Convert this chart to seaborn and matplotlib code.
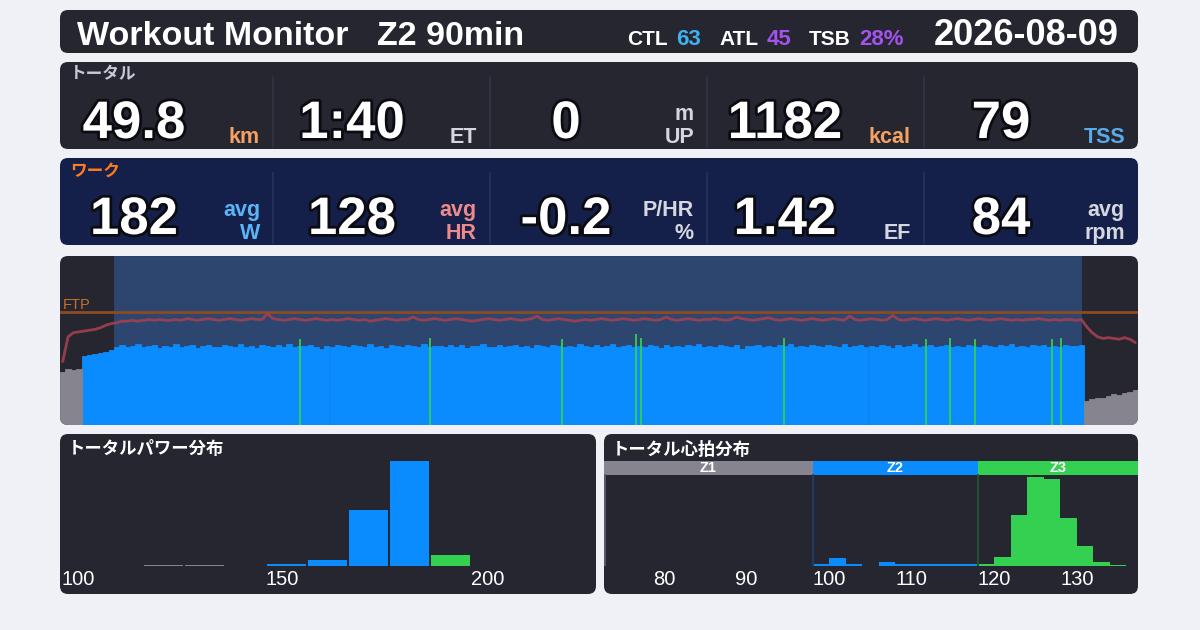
import numpy as np
import pandas as pd
import matplotlib.pyplot as plt
import matplotlib.patheffects as pe
from matplotlib.patches import FancyBboxPatch
from matplotlib.lines import Line2D
import seaborn as sns

# ---- header ----
title_text = "Workout Monitor   Z2 90min"
date_text = "2026-08-09"
load_labels = ["CTL", "ATL", "TSB"]
load_values = ["63", "45", "28%"]

# ---- summary cells ----
total_values = ["49.8", "1:40", "0", "1182", "79"]
total_units = ["km", "ET", "m\nUP", "kcal", "TSS"]
work_values = ["182", "128", "-0.2", "1.42", "84"]
work_units = ["avg\nW", "avg\nHR", "P/HR\n%", "EF", "avg\nrpm"]

# ---- timeline (0.5 min samples, 100 min) ----
ftp = 250
work_start, work_end = 5.0, 94.7
power = [
    118, 124, 121, 125, 152, 155, 158, 160, 163, 167,
    174, 177, 172, 176, 179, 173, 175, 178, 171, 176, 174, 180, 173, 175, 177, 170, 176, 178, 174, 172,
    177, 175, 173, 179, 174, 176, 171, 178, 175, 173, 177, 174, 180, 172, 176, 175, 178, 173, 169, 176,
    174, 178, 175, 172, 177, 176, 173, 179, 174, 175, 171, 177, 176, 173, 178, 175, 174, 180, 172, 176,
    175, 173, 177, 174, 178, 171, 176, 175, 179, 173, 174, 177, 172, 176, 178, 174, 175, 170, 177, 176,
    173, 178, 175, 174, 176, 172, 179, 175, 173, 177, 174, 176, 180, 173, 175, 178, 172, 176, 174, 177,
    175, 171, 178, 174, 176, 173, 177, 175, 179, 172, 176, 174, 178, 175, 173, 177, 168, 176, 175, 178,
    174, 176, 172, 177, 175, 179, 173, 176, 174, 178, 175, 172, 177, 176, 174, 180, 173, 175, 177, 174,
    176, 173, 178, 175, 171, 177, 174, 176, 179, 173, 175, 177, 172, 176, 178, 174, 175, 173, 177, 176,
    174, 178, 175, 172, 177, 175, 179, 173, 176, 174, 177, 175, 178, 173, 176, 174, 177, 175, 176, 178,
    54, 57, 61, 59, 65, 68, 66, 72, 74, 77,
]
heart_rate = [
    77, 107, 112, 113, 114, 115, 116, 118, 121, 123,
    124, 126, 126, 127, 126, 127, 128, 127, 128, 127,
    127, 128, 127, 129, 128, 127, 128, 129, 128, 127, 128, 129, 128, 127, 128, 129, 128, 128, 135, 129,
    128, 127, 128, 129, 128, 127, 128, 129, 128, 127, 128, 127, 128, 129, 128, 127, 128, 126, 127, 128,
    129, 128, 127, 128, 128, 131, 128, 127, 128, 129, 128, 127, 128, 129, 128, 127, 126, 127, 128, 129,
    128, 127, 128, 129, 128, 127, 128, 129, 132, 128, 127, 128, 129, 128, 127, 126, 127, 128, 127, 128,
    129, 128, 127, 128, 129, 128, 127, 128, 129, 128, 127, 128, 131, 128, 127, 128, 129, 128, 127, 128,
    128, 129, 128, 127, 128, 131, 129, 128, 127, 128, 129, 130, 128, 127, 128, 129, 128, 127, 128, 129,
    128, 127, 128, 129, 128, 127, 132, 128, 127, 128, 129, 128, 127, 128, 133, 128, 127, 128, 129, 128,
    127, 128, 129, 128, 127, 128, 129, 128, 127, 128, 129, 128, 127, 128, 129, 128, 127, 128, 127, 128,
    128, 129, 128, 127, 128, 127, 128, 128, 127, 128,
    119, 112, 107, 105, 106, 105, 104, 106, 104, 100,
]
spike_min = [22.3, 34.3, 46.6, 53.4, 53.9, 67.2, 80.3, 82.6, 84.9, 92.0, 92.9]
spike_watts = [191, 192, 191, 203, 194, 192, 191, 193, 191, 191, 192]

# ---- distributions ----
pdist_lo = [120, 130, 150, 160, 170, 180, 190]
pdist_pct = [0.4, 0.4, 0.8, 2.5, 23, 43, 4.5]
hr_zone_names = ["Z1", "Z2", "Z3"]
hr_zone_start = [98, 118]
hrdist_lo = [98, 100, 102, 104, 106, 108, 110, 112, 114, 116, 118, 120, 122, 124, 126, 128, 130, 132, 134]
hrdist_min = [0.6, 2.4, 0.6, 0, 1.2, 0.6, 0.6, 0.6, 0.6, 0.6, 0.6, 2.7, 15.2, 26.4, 25.7, 14.3, 5.9, 1.2, 0.3]

W, H = 1200, 630
BG = "#eff1f7"
DARK = "#262631"
NAVY = "#14204a"
WORK_BG = "#2c4670"
GRAY = "#86858f"
BLUE = "#0a8cff"
GREEN = "#33d052"
ZONE_COL = {"z1": GRAY, "z2": BLUE, "z3": GREEN}

sns.set_theme(style="dark")
plt.rcParams["font.family"] = ["Liberation Sans", "Noto Sans CJK JP", "DejaVu Sans"]

fig = plt.figure(figsize=(12, 6.3), dpi=100)
fig.patch.set_facecolor(BG)


def panel(x0, y0, x1, y1, color, r=8):
    p = FancyBboxPatch((x0 / 100, (H - y1) / 100), (x1 - x0) / 100, (y1 - y0) / 100,
                       boxstyle=f"round,pad=0,rounding_size={r / 100}",
                       transform=fig.dpi_scale_trans, facecolor=color, edgecolor="none", zorder=-5)
    fig.add_artist(p)
    return p


def text(x, y, s, **kw):
    return fig.text(x / 100, (H - y) / 100, s, transform=fig.dpi_scale_trans, **kw)


def add_axes(x0, y0, x1, y1):
    a = fig.add_axes([x0 / W, 1 - y1 / H, (x1 - x0) / W, (y1 - y0) / H])
    a.patch.set_visible(False)
    a.grid(False)
    for s in a.spines.values():
        s.set_visible(False)
    return a


def power_zone(v):
    return "z1" if v < 150 else ("z2" if v < 190 else "z3")


# ---- header ----
panel(60, 10, 1138, 53, DARK)
text(77, 45, title_text, fontsize=24.5, weight="bold", color="white", va="baseline")
text(1119, 45, date_text, fontsize=26, weight="bold", color="white", va="baseline", ha="right")
load_colors = ["#40b0f0", "#a452ec", "#a452ec"]
for lab, val, col, xl, xv in zip(load_labels, load_values, load_colors, [627, 719, 809], [676, 767, 859]):
    text(xl, 45, lab, fontsize=15, weight="bold", color="white", va="baseline")
    text(xv, 45, val, fontsize=16, weight="bold", color=col, va="baseline")

# ---- summary rows ----
cells = [60, 273, 490, 707, 924, 1138]
centers = [134, 352, 566, 785, 1001]
outline = [pe.withStroke(linewidth=4, foreground="#0b0b12")]


def stat_row(y0, bg, label, label_col, values, units, unit_cols, div_col):
    panel(60, y0, 1138, y0 + 87, bg)
    text(70, y0 + 13, label, fontsize=12, weight="bold", color=label_col, va="center")
    for k in range(1, 5):
        fig.add_artist(Line2D([cells[k] / 100] * 2, [(H - y0 - 15) / 100, (H - y0 - 85) / 100],
                              transform=fig.dpi_scale_trans, color=div_col, lw=1.2))
    for k, (v, u, uc) in enumerate(zip(values, units, unit_cols)):
        text(centers[k], y0 + 76, v, fontsize=38, weight="bold", color="white",
             ha="center", va="baseline", path_effects=outline)
        lines = u.split("\n")[::-1]
        for j, ln in enumerate(lines):
            text(cells[k + 1] - 13, y0 + 81 - 23 * j, ln, fontsize=15.5, weight="bold",
                 color=uc, ha="right", va="baseline")


LIGHT = "#d6d6e0"
ORANGE = "#f4a261"
stat_row(62, DARK, "トータル", "#c9c9d6", total_values, total_units,
         [ORANGE, LIGHT, LIGHT, ORANGE, "#5aaae8"], "#343442")
stat_row(158, NAVY, "ワーク", "#ff7b1c", work_values, work_units,
         ["#5ab4f5", "#f08a8a", LIGHT, LIGHT, LIGHT], "#29315a")

# ---- timeline ----
tl_patch = panel(60, 256, 1138, 425, DARK)
ax = add_axes(60, 256, 1138, 425)
edges = np.arange(0, 100.01, 0.5)
df_p = pd.DataFrame({"t": edges[:-1] + 0.25, "w": power})
df_p["zone"] = df_p["w"].map(power_zone)
order = [z for z in ["z1", "z2", "z3"] if z in set(df_p["zone"])]
ax.axvspan(work_start, work_end, color=WORK_BG, lw=0, zorder=0)
sns.histplot(data=df_p, x="t", weights="w", bins=edges.tolist(), hue="zone", hue_order=order,
             palette=ZONE_COL, multiple="layer", alpha=1, linewidth=0, legend=False, ax=ax)
for p in ax.patches:
    p.set_edgecolor(p.get_facecolor())
    p.set_linewidth(0.6)
ax.vlines(spike_min, 0, spike_watts, colors=[ZONE_COL[power_zone(v)] for v in spike_watts],
          lw=1.3, zorder=3)
ax.axhline(ftp, color="#8d4b22", lw=2, zorder=4)
ax.text(0.3, ftp + 7, "FTP", color="#c8702c", fontsize=10.5, zorder=5)
ax.set_xlim(0, 100)
ax.set_ylim(0, 375)
ax.axis("off")

ax2 = ax.twinx()
ax2.patch.set_visible(False)
sns.lineplot(x=df_p["t"], y=heart_rate, ax=ax2, color="#a3404f", lw=2, alpha=0.9)
ax2.set_xlim(0, 100)
ax2.set_ylim(0, 205)
ax2.axis("off")
for a in list(ax.patches) + list(ax.collections) + list(ax.lines) + list(ax2.lines):
    a.set_clip_path(tl_patch)

# ---- power distribution ----
panel(60, 434, 596, 594, DARK)
text(68, 449, "トータルパワー分布", fontsize=12.5, weight="bold", color="white", va="center")
axp = add_axes(61, 456, 596, 566)
df_pd = pd.DataFrame({"lo": np.array(pdist_lo) + 5, "pct": pdist_pct})
df_pd["zone"] = df_pd["lo"].map(power_zone)
sns.histplot(data=df_pd, x="lo", weights="pct", bins=list(range(100, 231, 10)), hue="zone",
             hue_order=["z1", "z2", "z3"], palette=ZONE_COL, multiple="layer", alpha=1,
             shrink=0.965, linewidth=0, legend=False, ax=axp)
axp.set_xlim(100, 230.5)
axp.set_ylim(0, max(pdist_pct) * 110 / 105)
axp.set_xticks([100, 150, 200])
axp.set_xticklabels(["100", "150", "200"], ha="left")
axp.set_yticks([])
axp.tick_params(axis="x", length=0, pad=3, labelsize=14.5, labelcolor="white")
axp.set_xlabel("")
axp.set_ylabel("")

# ---- heart-rate distribution ----
panel(604, 434, 1138, 594, DARK)
text(612, 449, "トータル心拍分布", fontsize=12.5, weight="bold", color="white", va="center")
axh = add_axes(604, 461, 1138, 566)
hx0, hx1 = 72.74, 137.4
strip = 1 - 14 / 105
zb = [hx0] + hr_zone_start + [hx1]
for name, lo, hi, col in zip(hr_zone_names, zb[:-1], zb[1:], [GRAY, BLUE, GREEN]):
    axh.axvspan(lo, hi, ymin=strip, ymax=1, color=col, lw=0)
    axh.text((lo + hi) / 2, (1 + strip) / 2, name, transform=axh.get_xaxis_transform(),
             ha="center", va="center", color="white", fontsize=10.5, weight="bold")
axh.axvline(hx0 + 0.1, ymax=strip, color="#56566a", lw=1.5)
axh.axvline(hr_zone_start[0], ymax=strip, color="#1f3c60", lw=1.5)
axh.axvline(hr_zone_start[1], ymax=strip, color="#24502f", lw=1.5)


def hr_zone(v):
    return "z1" if v < hr_zone_start[0] else ("z2" if v < hr_zone_start[1] else "z3")


df_hd = pd.DataFrame({"lo": np.array(hrdist_lo) + 1, "m": hrdist_min})
df_hd["zone"] = (df_hd["lo"] - 1).map(hr_zone)
sns.histplot(data=df_hd, x="lo", weights="m", bins=list(range(98, 137, 2)), hue="zone",
             hue_order=["z2", "z3"], palette=ZONE_COL, multiple="layer", alpha=1,
             linewidth=0, legend=False, ax=axh)
axh.set_xlim(hx0, hx1)
axh.set_ylim(0, max(hrdist_min) * 105 / 89)
axh.set_xticks([80, 90, 100, 110, 120, 130])
axh.set_yticks([])
axh.tick_params(axis="x", length=0, pad=3, labelsize=14.5, labelcolor="white")
axh.set_xlabel("")
axh.set_ylabel("")

fig.savefig("out.png", dpi=100, facecolor=BG)
